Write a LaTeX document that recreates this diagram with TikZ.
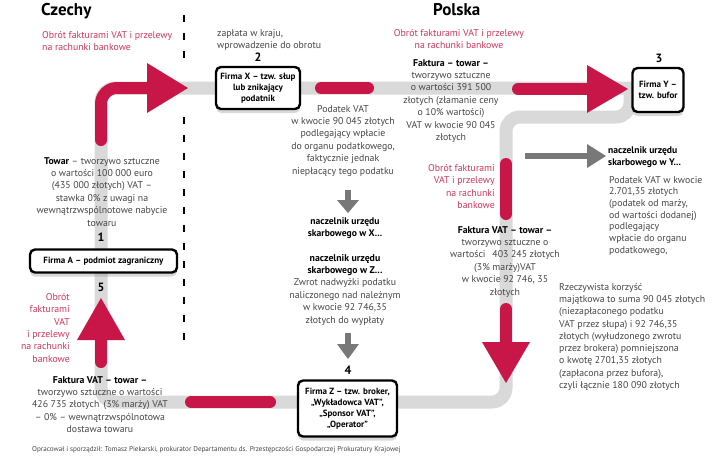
\documentclass[tikz,border=0pt]{standalone}
\usepackage{fontspec}
\setmainfont{PT Sans}
\usetikzlibrary{shadows}
\definecolor{vred}{RGB}{200,22,72}
\definecolor{vredtxt}{RGB}{205,55,90}
\definecolor{glt}{RGB}{217,217,217}
\definecolor{gdk}{RGB}{120,120,120}
\definecolor{txtc}{RGB}{70,70,70}
\begin{document}
\begin{tikzpicture}[x=1pt,y=-1pt,
  txt/.style={font=\fontsize{9.8}{12.4}\selectfont, text=txtc, align=center, inner sep=0pt},
  redtxt/.style={txt, text=vredtxt},
  bldtxt/.style={txt, text=black, font=\fontsize{9.6}{12.4}\selectfont\bfseries},
  numtxt/.style={inner sep=0pt, font=\fontsize{12}{12}\selectfont\bfseries},
  head/.style={inner sep=0pt, font=\fontsize{17}{17}\selectfont\bfseries},
  firm/.style={draw=black, line width=2.4pt, rounded corners=5pt, fill=white, align=center, inner sep=1pt,
    font=\fontsize{9}{11}\selectfont\bfseries,
    drop shadow={shadow xshift=0pt, shadow yshift=-4pt, opacity=0.3, fill=gray}},
  grayway/.style={draw=glt, line width=13pt, rounded corners=14pt},
  redline/.style={draw=vred, line width=12pt, line cap=round},
  redhead/.style={fill=vred},
  gline/.style={draw=gdk, line width=6pt},
  ghead/.style={fill=gdk},
  divider/.style={draw=black, line width=2.6pt, dash pattern=on 7pt off 11pt}
]
\useasboundingbox[fill=white] (0,0) rectangle (720,464);

% grey route
\coordinate (g0) at (630,92);
\coordinate (g1) at (630,117);
\coordinate (g2) at (506,117);
\coordinate (g3) at (506,402);
\coordinate (g4) at (101,402);
\coordinate (g5) at (101,88);
\coordinate (g6) at (645,88);
\draw[grayway] (g0) -- (g1) -- (g2) -- (g3) -- (g4) -- (g5) -- (g6);

% divider
\coordinate (d0) at (184,15);
\coordinate (d1) at (184,62);
\coordinate (d2) at (184,117);
\coordinate (d3) at (184,350);
\draw[divider] (d0) -- (d1);
\draw[divider] (d2) -- (d3);

% headings
\node[head, anchor=base west] (cz) at (41,15.5) {Czechy};
\node[head, anchor=base west] (pl) at (433,15.5) {Polska};

% red arrows
\coordinate (r1a) at (101,140);
\coordinate (r1b) at (101,88);
\coordinate (r1c) at (150,88);
\draw[redline, rounded corners=16pt] (r1a) -- (r1b) -- (r1c);
\fill[redhead] (147,63) -- (188,88) -- (147,113) -- cycle;

\coordinate (r2a) at (321,88);
\coordinate (r2b) at (368,88);
\draw[redline] (r2a) -- (r2b);

\coordinate (r3a) at (518,89);
\coordinate (r3b) at (590,89);
\draw[redline] (r3a) -- (r3b);
\fill[redhead] (587,65) -- (628,89) -- (587,113) -- cycle;

\coordinate (r4a) at (506,164);
\coordinate (r4b) at (506,214);
\draw[redline] (r4a) -- (r4b);

\coordinate (r5a) at (506,309);
\coordinate (r5b) at (506,345);
\draw[redline] (r5a) -- (r5b);
\fill[redhead] (482,342) -- (530,342) -- (506,383) -- cycle;

\coordinate (r6a) at (191,402);
\coordinate (r6b) at (270,402);
\draw[redline] (r6a) -- (r6b);

\coordinate (r7a) at (101,362);
\coordinate (r7b) at (101,336);
\draw[redline] (r7a) -- (r7b);
\fill[redhead] (77,340) -- (125,340) -- (101,298) -- cycle;

% grey arrows
\coordinate (ga1) at (348,190);
\coordinate (ga2) at (348,202);
\draw[gline] (ga1) -- (ga2);
\fill[ghead] (337,200) -- (359,200) -- (348,213) -- cycle;
\coordinate (gb1) at (348,333);
\coordinate (gb2) at (348,346);
\draw[gline] (gb1) -- (gb2);
\fill[ghead] (337,344) -- (359,344) -- (348,359) -- cycle;
\coordinate (gc1) at (525,156);
\coordinate (gc2) at (590,156);
\draw[gline] (gc1) -- (gc2);
\fill[ghead] (587,144) -- (606,156) -- (587,168) -- cycle;

% firms
\node[firm, minimum width=84pt, minimum height=42pt] (fx) at (258,88) {Firma X -- tzw. słup\\lub znikający\\podatnik};
\node[firm, minimum width=51pt, minimum height=44pt] (fy) at (658,90) {Firma Y --\\tzw. bufor};
\node[firm, minimum width=99pt, minimum height=56pt] (fz) at (347.5,408.5) {Firma Z -- tzw. broker,\\„Wykładowca VAT”,\\„Sponsor VAT”,\\„Operator”};
\node[firm, minimum width=147pt, minimum height=23pt] (fa) at (103.5,261) {Firma A -- podmiot zagraniczny};

% numbers
\node[numtxt] (n1) at (101,237) {1};
\node[numtxt] (n2) at (258,57) {2};
\node[numtxt] (n3) at (659,58) {3};
\node[numtxt] (n4) at (348,370) {4};
\node[numtxt] (n5) at (101,287) {5};

% texts
\node[redtxt, anchor=north west, align=left] (rt1) at (42,31) {Obrót fakturami VAT i przelewy\\na rachunki bankowe};
\node[txt, anchor=north west, align=left] (zap) at (217,29) {zapłata w kraju,\\wprowadzenie do obrotu};
\node[redtxt, anchor=north] (rt2) at (459,29) {Obrót fakturami VAT i przelewy\\na rachunki bankowe};
\node[txt, anchor=north] (fk1) at (451,59) {\textbf{\color{black}Faktura -- towar --}\\tworzywo sztuczne\\o wartości 391 500\\złotych (złamanie ceny\\o 10\% wartości)\\VAT w kwocie 90 045\\złotych};
\node[txt, anchor=north] (pod) at (343,105) {Podatek VAT\\w kwocie 90 045 złotych\\podlegający wpłacie\\do organu podatkowego,\\faktycznie jednak\\niepłacący tego podatku};
\node[bldtxt, anchor=north] (nx) at (345,217) {naczelnik urzędu\\skarbowego w X...};
\node[txt, anchor=north] (nz) at (345,254) {\textbf{\color{black}naczelnik urzędu}\\\textbf{\color{black}skarbowego w Z...}\\Zwrot nadwyżki podatku\\naliczonego nad należnym\\w kwocie 92 746,35\\złotych do wypłaty};
\node[txt, anchor=north] (tw) at (102,157) {\textbf{\color{black}Towar} -- tworzywo sztuczne\\o wartości 100 000 euro\\(435 000 złotych) VAT --\\stawka 0\% z uwagi na\\wewnątrzwspólnotowe nabycie\\towaru};
\node[redtxt, anchor=north east, align=right] (rt3) at (70,293) {Obrót\\fakturami\\VAT\\i przelewy\\na rachunki\\bankowe};
\node[txt, anchor=north] (fk3) at (100,376) {\textbf{\color{black}Faktura VAT -- towar --}\\tworzywo sztuczne o wartości\\426 735 złotych \,(3\% marży) VAT\\-- 0\% -- wewnątrzwspólnotowa\\dostawa towaru};
\node[redtxt, anchor=north east, align=right] (rt4) at (495,164) {Obrót fakturami\\VAT i przelewy\\na rachunki\\bankowe};
\node[txt, anchor=north] (fk2) at (505,226) {\textbf{\color{black}Faktura VAT -- towar --}\\tworzywo sztuczne o\\wartości \, 403 245 złotych\\(3\% marży)VAT\\w kwocie 92 746, 35\\złotych};
\node[bldtxt, anchor=north west, align=left] (ny) at (608,146) {naczelnik urzędu\\skarbowego w Y...};
\node[txt, anchor=north west, align=left, font=\fontsize{9.8}{11.7}\selectfont] (py) at (609,176) {Podatek VAT w kwocie\\2.701,35 złotych\\(podatek od marży,\\od wartości dodanej)\\podlegający\\wpłacie do organu\\podatkowego,};
\node[txt, anchor=north west, align=left, font=\fontsize{9.8}{12.25}\selectfont] (rz) at (559,283) {Rzeczywista korzyść\\majątkowa to suma 90 045 złotych\\(niezapłaconego podatku\\VAT przez słupa) i 92 746,35\\złotych (wyłudzonego zwrotu\\przez brokera) pomniejszona\\o kwotę 2701,35 złotych\\(zapłacona przez bufora),\\czyli łącznie 180 090 złotych};
\node[txt, anchor=west, font=\fontsize{7.1}{8}\selectfont] (foot) at (32,450) {Opracował i sporządził: Tomasz Piekarski, prokurator Departamentu ds. Przestępczości Gospodarczej Prokuratury Krajowej};
\end{tikzpicture}
\end{document}
